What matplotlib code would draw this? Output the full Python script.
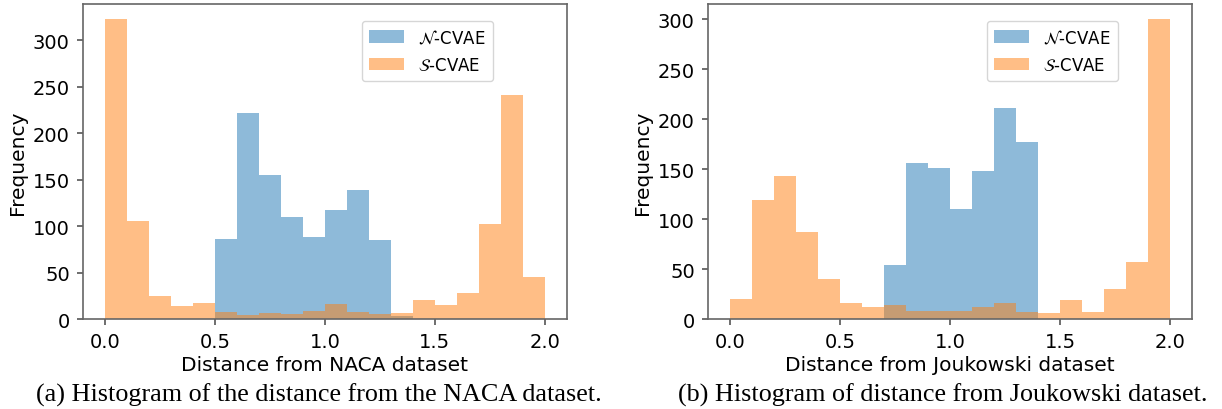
import matplotlib

matplotlib.use("Agg")
import matplotlib.pyplot as plt
import numpy as np

# bin edges shared by both panels (width 0.1 from 0 to 2)
bin_edges = np.round(np.arange(0, 2.01, 0.1), 2)

# (a) distance from NACA dataset
naca_n_cvae = [0, 0, 0, 0, 0, 86, 222, 155, 110, 88, 117, 139, 85, 3, 0, 0, 0, 0, 0, 0]
naca_s_cvae = [323, 106, 25, 14, 17, 8, 4, 7, 5, 9, 16, 8, 5, 7, 20, 15, 28, 102, 241, 45]

# (b) distance from Joukowski dataset
jouk_n_cvae = [0, 0, 0, 0, 0, 0, 0, 54, 156, 151, 110, 148, 211, 177, 0, 0, 0, 0, 0, 0]
jouk_s_cvae = [20, 119, 143, 87, 40, 16, 12, 14, 8, 8, 8, 12, 16, 7, 6, 19, 7, 30, 57, 300]

panels = [
    (naca_n_cvae, naca_s_cvae, "Distance from NACA dataset",
     "(a) Histogram of the distance from the NACA dataset."),
    (jouk_n_cvae, jouk_s_cvae, "Distance from Joukowski dataset",
     "(b) Histogram of distance from Joukowski dataset."),
]

fig = plt.figure(figsize=(12.22, 4.10), dpi=100)
axes_pos = [[0.0679, 0.2195, 0.396, 0.768], [0.5794, 0.2195, 0.396, 0.768]]
caption_x = [319 / 1222, 943 / 1222]

centers = (bin_edges[:-1] + bin_edges[1:]) / 2
for pos, cx, (n_vals, s_vals, xlabel, caption) in zip(axes_pos, caption_x, panels):
    ax = fig.add_axes(pos)
    ax.hist(centers, bins=bin_edges, weights=n_vals, color="C0", alpha=0.5,
            label=r"$\mathcal{N}$-CVAE")
    ax.hist(centers, bins=bin_edges, weights=s_vals, color="C1", alpha=0.5,
            label=r"$\mathcal{S}$-CVAE")
    ax.set_xticks([0.0, 0.5, 1.0, 1.5, 2.0])
    ax.tick_params(labelsize=14, color="#555555", width=1.2, length=4.5, pad=5)
    for sp in ax.spines.values():
        sp.set_color("#666666")
        sp.set_linewidth(1.2)
    ax.set_xlabel(xlabel, fontsize=14.5, labelpad=3)
    ax.set_ylabel("Frequency", fontsize=14.5, labelpad=4)
    ax.legend(loc="upper right", bbox_to_anchor=(0.847, 0.946), fontsize=12,
              handlelength=2.1, handleheight=0.8, borderpad=0.45,
              labelspacing=0.55, borderaxespad=0)
    fig.text(cx, 0.0205, caption, ha="center", va="baseline",
             family="Liberation Serif", fontsize=18.8)

fig.savefig("out.png", dpi=100)
